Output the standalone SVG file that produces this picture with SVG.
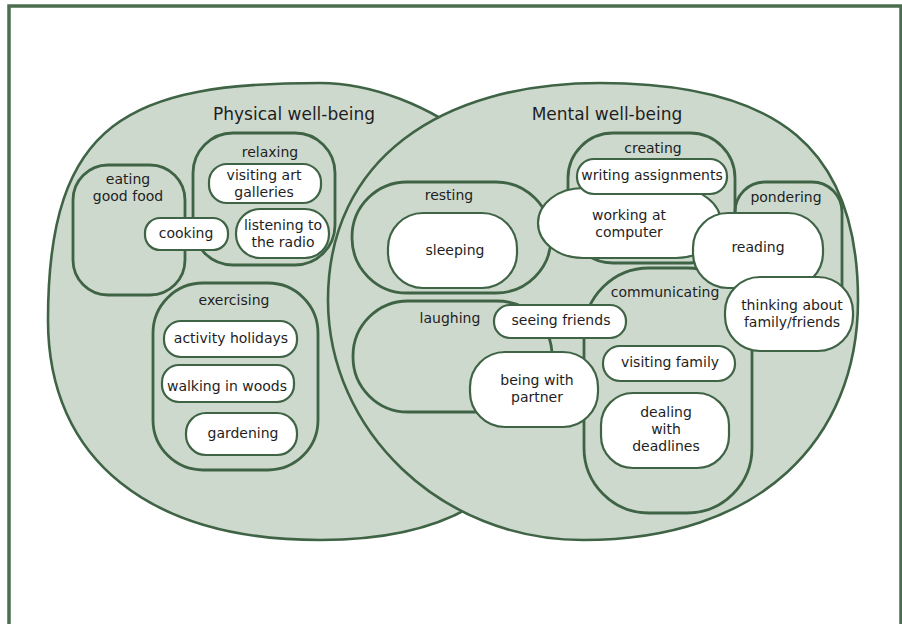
<svg xmlns="http://www.w3.org/2000/svg" width="902" height="624" viewBox="0 0 902 624">
<style>
.frame{fill:#fff;stroke:#4b6e50;stroke-width:3.5}
.blob{fill:#ced9ce;stroke:#3f6445;stroke-width:2.6}
.cat{fill:none;stroke:#3f6445;stroke-width:2.8}
.item{fill:#fff;stroke:#3f6445;stroke-width:2.2}
text{font-family:"DejaVu Sans","Liberation Sans",sans-serif;font-size:14px;fill:#1e1e1e;text-anchor:middle}
.title{font-size:17px}
</style>
<rect class="frame" x="9" y="6" width="892" height="700"/>
<g id="physical">
<path class="blob" d="M320,83 C130,83 48,120 48,320 C48,460 150,540 320,540 C480,540 560,470 560,311 C560,170 420,83 320,83 Z"/>
<text class="title" x="294" y="120">Physical well-being</text>
</g>
<g id="mental">
<path class="blob" d="M600,83 C780,83 858,150 858,300 C858,440 760,540 583,540 C440,540 328,430 328,300 C328,160 440,83 600,83 Z"/>
<text class="title" x="607" y="120">Mental well-being</text>
</g>
<g id="eating">
<rect class="cat" x="73" y="165" width="112" height="130" rx="35"/>
<text x="128" y="184">eating</text>
<text x="128" y="201">good food</text>
</g>
<g id="relaxing">
<rect class="cat" x="193" y="133" width="142" height="132" rx="40"/>
<text x="270" y="157">relaxing</text>
</g>
<g id="exercising">
<rect class="cat" x="153" y="283" width="165" height="187" rx="50"/>
<text x="234" y="305">exercising</text>
</g>
<g id="creating">
<rect class="cat" x="568" y="133" width="167" height="130" rx="45"/>
<text x="653" y="153">creating</text>
</g>
<g id="resting">
<rect class="cat" x="352" y="182" width="199" height="111" rx="55"/>
<text x="449" y="200">resting</text>
</g>
<g id="pondering">
<rect class="cat" x="735" y="182" width="107" height="150" rx="30"/>
<text x="786" y="202">pondering</text>
</g>
<g id="communicating">
<rect class="cat" x="584" y="268" width="168" height="245" rx="65"/>
<text x="665" y="297">communicating</text>
</g>
<g id="laughing">
<rect class="cat" x="353" y="301" width="199" height="111" rx="55"/>
<text x="450" y="323">laughing</text>
</g>
<g id="visiting-art">
<rect class="item" x="209" y="164" width="112" height="39" rx="18"/>
<text x="264" y="180">visiting art</text>
<text x="264" y="197">galleries</text>
</g>
<g id="listening">
<rect class="item" x="236" y="209" width="93" height="49" rx="24"/>
<text x="283" y="230">listening to</text>
<text x="283" y="247">the radio</text>
</g>
<g id="cooking">
<rect class="item" x="145" y="218" width="83" height="32" rx="15"/>
<text x="186" y="238">cooking</text>
</g>
<g id="activity">
<rect class="item" x="164" y="321" width="133" height="36" rx="17"/>
<text x="231" y="343">activity holidays</text>
</g>
<g id="walking">
<rect class="item" x="162" y="365" width="132" height="37" rx="17"/>
<text x="227" y="391">walking in woods</text>
</g>
<g id="gardening">
<rect class="item" x="186" y="413" width="111" height="42" rx="20"/>
<text x="243" y="438">gardening</text>
</g>
<g id="sleeping">
<rect class="item" x="388" y="213" width="129" height="75" rx="35"/>
<text x="455" y="255">sleeping</text>
</g>
<g id="working">
<rect class="item" x="538" y="188" width="183" height="70" rx="45" ry="35"/>
<text x="629" y="220">working at</text>
<text x="629" y="237">computer</text>
</g>
<g id="writing">
<rect class="item" x="577" y="159" width="150" height="35" rx="17"/>
<text x="652" y="180">writing assignments</text>
</g>
<g id="reading">
<rect class="item" x="693" y="213" width="130" height="75" rx="35"/>
<text x="758" y="252">reading</text>
</g>
<g id="thinking">
<rect class="item" x="725" y="277" width="128" height="74" rx="35"/>
<text x="792" y="310">thinking about</text>
<text x="792" y="327">family/friends</text>
</g>
<g id="seeing">
<rect class="item" x="494" y="305" width="132" height="33" rx="16"/>
<text x="561" y="325">seeing friends</text>
</g>
<g id="partner">
<rect class="item" x="470" y="352" width="128" height="75" rx="35"/>
<text x="537" y="385">being with</text>
<text x="537" y="402">partner</text>
</g>
<g id="visiting-family">
<rect class="item" x="603" y="346" width="132" height="35" rx="17"/>
<text x="670" y="367">visiting family</text>
</g>
<g id="deadlines">
<rect class="item" x="601" y="393" width="128" height="75" rx="32"/>
<text x="666" y="417">dealing</text>
<text x="666" y="434">with</text>
<text x="666" y="451">deadlines</text>
</g>
<g id="connectors"/>
</svg>
